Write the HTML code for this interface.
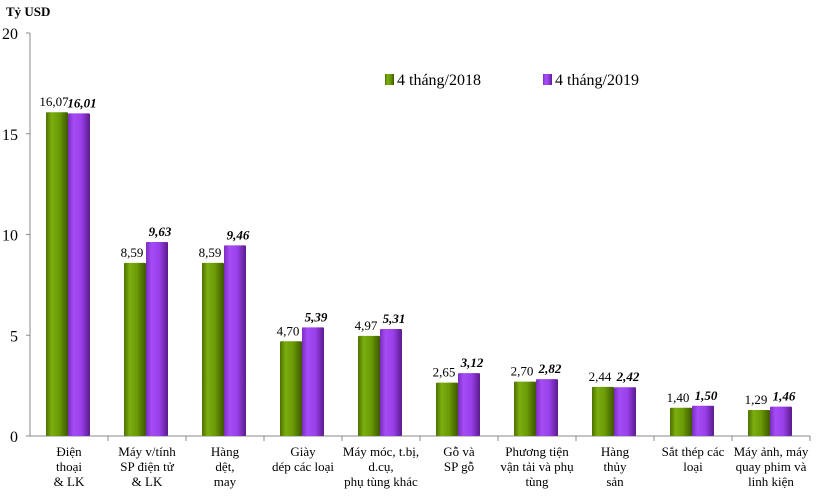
<!DOCTYPE html>
<html><head><meta charset="utf-8">
<style>
body{margin:0;background:#fff;}
svg text{font-family:"Liberation Serif",serif;}
</style></head>
<body>
<svg width="819" height="493" xmlns="http://www.w3.org/2000/svg">
<defs>
<linearGradient id="gG" x1="0" x2="1" y1="0" y2="0">
<stop offset="0" stop-color="#4d6e00"/><stop offset="0.25" stop-color="#7bae10"/><stop offset="0.6" stop-color="#6a9a06"/><stop offset="1" stop-color="#3d5700"/>
</linearGradient>
<linearGradient id="gP" x1="0" x2="1" y1="0" y2="0">
<stop offset="0" stop-color="#7a2dc0"/><stop offset="0.25" stop-color="#a64cf5"/><stop offset="0.6" stop-color="#9a40ea"/><stop offset="1" stop-color="#5a1c8c"/>
</linearGradient>
</defs>
<g id="chart"></g>
</svg>
<script>
const categories=[["Điện","thoại","& LK"],["Máy v/tính","SP điện tử","& LK"],["Hàng","dệt,","may"],["Giày","dép các loại"],["Máy móc, t.bị,","d.cụ,","phụ tùng khác"],["Gỗ và","SP gỗ"],["Phương tiện","vận tải và phụ","tùng"],["Hàng","thủy","sản"],["Sắt thép các","loại"],["Máy ảnh, máy","quay phim và","linh kiện"]];
const values2018=[16.07,8.59,8.59,4.70,4.97,2.65,2.70,2.44,1.40,1.29];
const values2019=[16.01,9.63,9.46,5.39,5.31,3.12,2.82,2.42,1.50,1.46];
const yTicks=[0,5,10,15,20];
const NS="http://www.w3.org/2000/svg";
const g=document.getElementById('chart');
const x0=30,catW=78,y0=436,yTop=33,yMax=20;
const y=v=>y0-(v/yMax)*(y0-yTop);
const fmt=v=>v.toFixed(2).replace('.',',');
function mk(t,a,txt){const e=document.createElementNS(NS,t);for(const k in a)e.setAttribute(k,a[k]);if(txt!==undefined)e.textContent=txt;g.appendChild(e);return e;}
let e;
e=mk('line',{x1:x0,y1:yTop,x2:x0,y2:y0,stroke:'#888'});


e=mk('line',{x1:x0,y1:y0,x2:x0+catW*categories.length,y2:y0,stroke:'#888'});


yTicks.forEach(t=>{
 mk('line',{x1:x0-4,x2:x0,y1:y(t),y2:y(t),stroke:'#888'});
 e=mk('text',{x:x0-12,y:y(t)+6,'text-anchor':'end','font-size':16},String(t));
 
 
});
e=mk('text',{x:6,y:16,'font-size':13,'font-weight':'bold'},'Tỷ USD');


categories.forEach((c,i)=>{
 const cx=x0+catW*i;
 mk('line',{x1:cx+catW,x2:cx+catW,y1:y0,y2:y0+5,stroke:'#888'});
 const a=values2018[i],b=values2019[i];
 e=mk('rect',{x:cx+16,y:y(a),width:22,height:y0-y(a),fill:'url(#gG)',rx:1});
 
 
 e=mk('rect',{x:cx+38,y:y(b),width:22,height:y0-y(b),fill:'url(#gP)',rx:1});
 
 
 e=mk('text',{x:cx+24,y:y(a)-6,'text-anchor':'middle','font-size':13},fmt(a));
 
 
 e=mk('text',{x:cx+52,y:y(b)-6,'text-anchor':'middle','font-size':13,'font-weight':'bold','font-style':'italic'},fmt(b));
 
 
 c.forEach((ln,j)=>{
  e=mk('text',{x:cx+catW/2,y:456+j*15,'text-anchor':'middle','font-size':13},ln);
  
  
 });
});
e=mk('rect',{x:385,y:74,width:9,height:11,fill:'url(#gG)'});


e=mk('text',{x:397,y:85,'font-size':16},'4 tháng/2018');


e=mk('rect',{x:543,y:74,width:9,height:11,fill:'url(#gP)'});


e=mk('text',{x:555,y:85,'font-size':16},'4 tháng/2019');


</script>
</body></html>
